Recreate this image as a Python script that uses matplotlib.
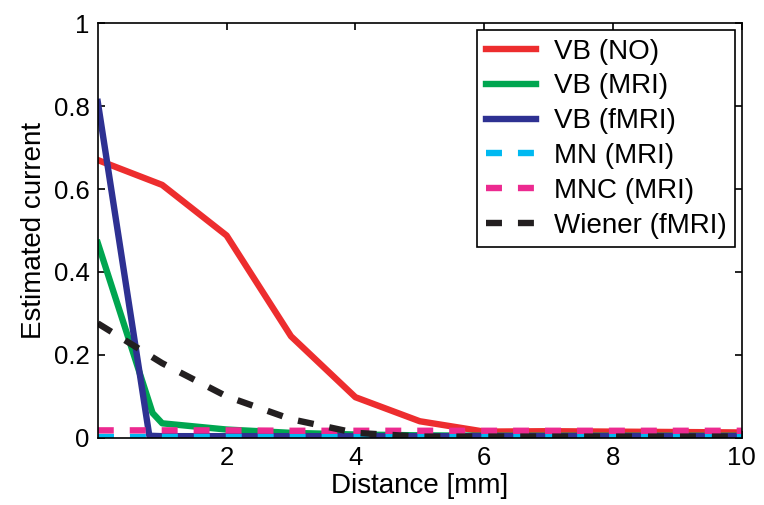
import matplotlib
matplotlib.use('Agg')
import matplotlib.pyplot as plt

plt.rcParams['font.family'] = ['Liberation Sans', 'DejaVu Sans']

# distances [mm]
dist = [0, 1, 2, 3, 4, 5, 6, 7, 8, 9, 10]

# VB (NO)
vb_no = [0.67, 0.61, 0.488, 0.245, 0.098, 0.04, 0.015, 0.016, 0.015, 0.014, 0.013]

# VB (MRI) has an extra sample near 0.85 mm
dist_mri = [0, 0.85, 1, 2, 3, 4, 5, 6, 7, 8, 9, 10]
vb_mri = [0.47, 0.06, 0.035, 0.02, 0.012, 0.008, 0.006, 0.005, 0.005, 0.005, 0.005, 0.005]

# VB (fMRI)
dist_fmri = [0, 0.8, 1, 2, 3, 4, 5, 6, 7, 8, 9, 10]
vb_fmri = [0.81, 0.005, 0.004, 0.004, 0.004, 0.004, 0.004, 0.004, 0.004, 0.004, 0.004, 0.004]

# MN (MRI), MNC (MRI), Wiener (fMRI)
mn_mri = [0.003, 0.003, 0.003, 0.003, 0.003, 0.003, 0.003, 0.003, 0.003, 0.003, 0.003]
mnc_mri = [0.018, 0.018, 0.018, 0.017, 0.017, 0.017, 0.017, 0.017, 0.017, 0.017, 0.017]
wiener = [0.276, 0.18, 0.1, 0.045, 0.012, 0.003, 0.003, 0.003, 0.003, 0.003, 0.003]

fig = plt.figure(figsize=(7.64, 5.05), dpi=100)
ax = fig.add_axes([0.128, 0.133, 0.843, 0.821])

lw = 4.6
dash = (0, (2.5, 2.5))
ax.plot(dist, vb_no, color='#ED2D2E', lw=lw, label='VB (NO)')
ax.plot(dist_mri, vb_mri, color='#00A650', lw=lw, label='VB (MRI)')
ax.plot(dist_fmri, vb_fmri, color='#2E3192', lw=lw, label='VB (fMRI)')
ax.plot(dist, mn_mri, color='#00B9F1', lw=lw, ls=dash, label='MN (MRI)')
ax.plot(dist, mnc_mri, color='#EC2A90', lw=lw, ls=dash, label='MNC (MRI)')
ax.plot(dist, wiener, color='#231F20', lw=lw, ls=dash, label='Wiener (fMRI)')

ax.set_xlim(0, 10)
ax.set_ylim(0, 1)
ax.set_xticks([2, 4, 6, 8, 10])
ax.set_yticks([0, 0.2, 0.4, 0.6, 0.8, 1])
ax.set_yticklabels(['0', '0.2', '0.4', '0.6', '0.8', '1'])
ax.tick_params(direction='in', top=True, right=True, labelsize=18.5, length=5,
               width=1.2, pad=6)
for s in ax.spines.values():
    s.set_linewidth(1.2)

ax.set_xlabel('Distance [mm]', fontsize=20, labelpad=2)
ax.set_ylabel('Estimated current', fontsize=20, labelpad=5)

leg = ax.legend(loc='upper right', fontsize=20, frameon=True, fancybox=False,
                edgecolor='black', framealpha=1, handlelength=1.8,
                borderaxespad=0.25, borderpad=0.3, labelspacing=0.32,
                handletextpad=0.65)
leg.get_frame().set_linewidth(1.2)

fig.savefig('out.png', dpi=100)
plt.close()
